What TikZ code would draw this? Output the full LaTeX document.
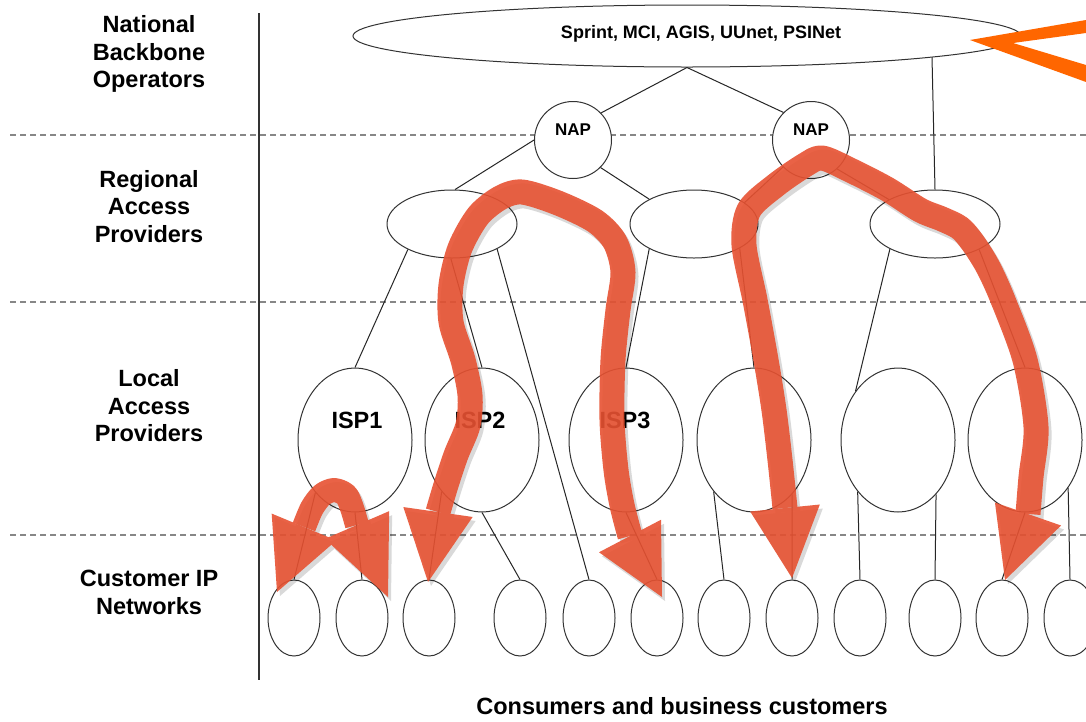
\documentclass[tikz,border=0pt]{standalone}
\usepackage{fontspec}
\setmainfont{Liberation Sans}
\usetikzlibrary{shapes.geometric,calc}
\definecolor{flow}{RGB}{231,82,50}
\definecolor{markorange}{RGB}{255,102,0}
\definecolor{dashgray}{RGB}{135,135,135}
\newcommand\headtri[3]{\fill[#1] (#3) -- ($(#2)!35pt!90:(#3)$) -- ($(#2)!35pt!-90:(#3)$) -- cycle;}
\newcommand\flowshapes[1]{%
  \draw[color=#1, line width=25, line join=round] plot[smooth, tension=0.5] coordinates
    {(438,512) (446,485) (456,455) (468,425) (470,395) (463,360) (451,322) (451,285) (460,248) (478,216) (500,198) (522,192) (558,203) (595,221) (615,242) (623,272) (618,310) (613,360) (612,420) (616,470) (622,505) (630,536)};
  \draw[color=#1, line width=25, line join=round] plot[smooth, tension=0.5] coordinates
    {(785,508) (780,460) (774,410) (766,360) (755,300) (744,245) (749,210) (776,185) (805,165) (822,158) (850,170) (887,189) (920,210) (942,219) (960,228) (973,243) (988,267) (1003,300) (1025,360) (1036,427) (1031,477) (1028,514)};
  \draw[color=#1, line width=24, line join=round] plot[smooth, tension=0.5] coordinates
    {(304,527) (312,508) (322,495) (334,490) (346,495) (352,508) (357,525)};
  \headtri{#1}{438,512}{428,582}
  \headtri{#1}{630,536}{662,597}
  \headtri{#1}{785,508}{792,578}
  \headtri{#1}{1028,514}{1005,580}
  \headtri{#1}{304,527}{277,592}
  \headtri{#1}{357,525}{388,597}
}
\tikzset{
  lbl/.style={font=\fontsize{23.5}{27.5}\selectfont\bfseries, align=center, inner sep=0},
  isptext/.style={font=\fontsize{23.5}{27.5}\selectfont\bfseries, inner sep=0, text height=16.9pt, text depth=0pt},
  smalltext/.style={font=\fontsize{18}{20}\selectfont\bfseries, inner sep=0, text height=12.9pt, text depth=0pt},
  naptext/.style={font=\fontsize{17}{19}\selectfont\bfseries, inner sep=0, text height=12.2pt, text depth=0pt},
  oval/.style={ellipse, draw=black!80, line width=1, fill=white, inner sep=0},
  nap/.style={circle, draw=black!80, line width=1, fill=white, minimum size=77, inner sep=0},
  link/.style={draw=black!85, line width=1},
  sep/.style={dashgray, line width=1.2, dash pattern=on 6 off 4},
}
\begin{document}
\begin{tikzpicture}[x=1pt,y=-1pt]
\useasboundingbox (0,0) rectangle (1086,721);
\fill[white] (0,0) rectangle (1086,721);
\clip (0,0) rectangle (1086,721);

% separators
\draw[sep] (10,135) -- (1086,135);
\draw[sep] (10,302) -- (1086,302);
\draw[sep] (10,535) -- (1086,535);
\draw[black!80, line width=1.3] (259,13) -- (259,680);

% left labels
\node[lbl] (lnat) at (149,54) {National\\Backbone\\Operators};
\node[lbl] (lreg) at (149,206.5) {Regional\\Access\\Providers};
\node[lbl] (lloc) at (149,406) {Local\\Access\\Providers};
\node[lbl] (lcus) at (149,592.5) {Customer IP\\Networks};
\node[isptext] (lbottom) at (682,706) {Consumers and business customers};

% nodes
\node[oval, minimum width=668, minimum height=62] (top) at (687,36) {};
\node[smalltext] (sprint) at (701,32) {Sprint, MCI, AGIS, UUnet, PSINet};
\node[nap] (nap1) at (573,140) {};
\node[nap] (nap2) at (811,140) {};
\node[naptext] (nap1t) at (573,129) {NAP};
\node[naptext] (nap2t) at (811,129) {NAP};
\node[oval, minimum width=130, minimum height=68] (r1) at (452,224) {};
\node[oval, minimum width=128, minimum height=68] (r2) at (694,224) {};
\node[oval, minimum width=130, minimum height=68] (r3) at (935,224) {};
\foreach \n/\x in {1/355,2/482,3/626,4/754,5/898,6/1025}
  \node[oval, minimum width=114, minimum height=144] (isp\n) at (\x,440) {};
\foreach \n/\x in {1/294,2/362,3/429,4/520,5/589,6/657,7/724,8/792,9/860,10/935,11/1002,12/1070}
  \node[oval, minimum width=52, minimum height=76] (c\n) at (\x,618) {};
\node[isptext] (isp1t) at (357,420) {ISP1};
\node[isptext] (isp2t) at (480,420) {ISP2};
\node[isptext] (isp3t) at (625,420) {ISP3};

% connectors
\draw[link] (top.south) -- (nap1.44);
\draw[link] (top.south) -- (nap2.135);
\draw[link] (top.355) -- (r3.north);
\draw[link] (nap1.180) -- (r1.85);
\draw[link] (nap1.315) -- (r2.151);
\draw[link] (nap2.224) -- (r2.23);
\draw[link] (nap2.312) -- (r3.152);
\draw[link] (r1.210) -- (isp1.north);
\draw[link] (r1.268) -- (isp2.north);
\draw[link] (r1.331) -- (c5.north);
\draw[link] (r2.209) -- (isp3.north);
\draw[link] (r2.332) -- (isp4.north);
\draw[link] (r3.209) -- (isp5.131);
\draw[link] (r3.330) -- (isp6.north);
\draw[link] (isp1.233) -- (c1.north);
\draw[link] (isp1.south) -- (c2.north);
\draw[link] (isp2.232) -- (c3.north);
\draw[link] (isp2.south) -- (c4.north);
\draw[link] (isp3.south) -- (c6.north);
\draw[link] (isp4.232) -- (c7.north);
\draw[link] (isp4.305) -- (c8.north);
\draw[link] (isp5.232) -- (c9.north);
\draw[link] (isp5.305) -- (c10.north);
\draw[link] (isp6.south) -- (c11.north);
\draw[link] (isp6.312) -- (c12.north);

% flow arrows with soft shadow
\begin{scope}[transparency group, opacity=0.15, shift={(3,4)}]
  \flowshapes{black}
\end{scope}
\begin{scope}[transparency group, opacity=0.9]
  \flowshapes{flow}
\end{scope}

% orange marker
\fill[markorange] (970,40) -- (1086,20) -- (1086,33) -- (1013,43) -- (1086,65) -- (1086,82) -- cycle;
\end{tikzpicture}
\end{document}
